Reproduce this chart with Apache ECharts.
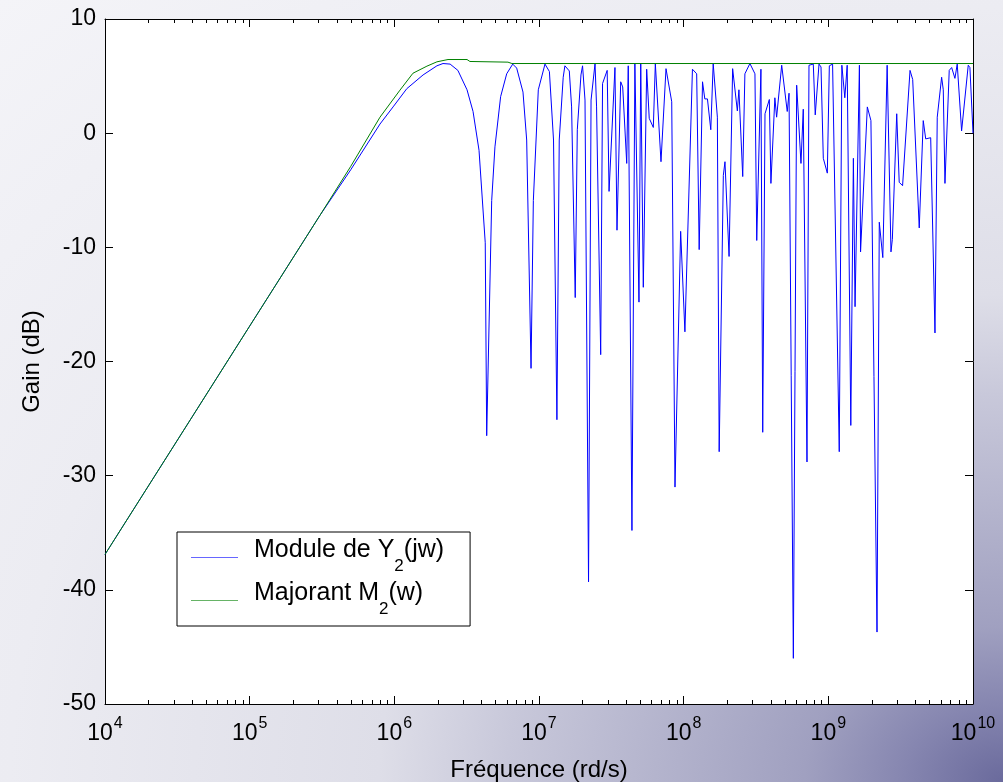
<!DOCTYPE html>
<html>
<head>
<meta charset="utf-8">
<script src="https://cdn.jsdelivr.net/npm/echarts@6/dist/echarts.min.js"></script>
<style>
html,body{margin:0;padding:0;width:1003px;height:782px;overflow:hidden;
background: radial-gradient(ellipse farthest-corner at 100% 100%, #6a6a9c 0%, #8686b0 7%, #a0a0c0 14%, #c8c8da 35%, #dedee8 44%, #ececf2 70%, #f4f4f8 100%);}
#c{width:1003px;height:782px;}
</style>
</head>
<body>
<div id="c"></div>
<script>
// ---- data ----
const freqBlue = [
1e4, 1e5, 3.06e5, 5e5, 7.96e5, 9.8e5, 1.22e6, 1.58e6, 1.97e6, 2.17e6,
2.43e6, 2.75e6, 3.18e6, 3.50e6, 3.85e6, 4.25e6, 4.35e6, 4.71e6, 4.96e6, 5.43e6,
5.98e6, 6.58e6, 7.01e6, 7.75e6, 8.22e6, 8.81e6, 9.14e6, 9.89e6,
1.10e7, 1.18e7, 1.26e7, 1.33e7, 1.38e7, 1.47e7, 1.51e7, 1.62e7, 1.68e7, 1.78e7,
1.84e7, 1.95e7, 2.00e7, 2.08e7, 2.20e7, 2.29e7, 2.44e7, 2.50e7, 2.67e7, 2.75e7,
2.96e7, 3.05e7, 3.35e7, 3.46e7, 3.67e7, 3.79e7, 4.04e7, 4.14e7, 4.39e7, 4.60e7,
4.91e7, 5.05e7, 5.26e7, 5.55e7, 5.78e7, 6.17e7, 6.37e7, 6.97e7, 7.55e7, 7.71e7,
8.27e7, 8.71e7, 9.53e7,
1.02e8, 1.15e8, 1.23e8, 1.28e8, 1.35e8, 1.40e8, 1.46e8, 1.54e8, 1.60e8, 1.71e8,
1.76e8, 1.88e8, 1.93e8, 2.06e8, 2.18e8, 2.35e8, 2.41e8, 2.56e8, 2.65e8, 2.87e8,
3.11e8, 3.20e8, 3.42e8, 3.52e8, 3.65e8, 3.91e8, 4.01e8, 4.27e8, 4.39e8, 4.76e8,
4.88e8, 5.20e8, 5.35e8, 5.73e8, 6.04e8, 6.47e8, 6.71e8, 7.12e8, 7.35e8, 7.87e8,
8.12e8, 8.62e8, 8.90e8, 9.23e8, 9.84e8,
1.016e9, 1.07e9, 1.19e9, 1.24e9, 1.30e9, 1.35e9, 1.43e9, 1.49e9, 1.53e9, 1.64e9,
1.67e9, 1.86e9, 1.97e9, 2.17e9, 2.25e9, 2.38e9, 2.55e9, 2.71e9, 2.77e9, 2.97e9,
3.09e9, 3.26e9, 3.67e9, 3.83e9, 4.25e9, 4.53e9, 4.71e9, 5.10e9, 5.46e9, 5.66e9,
6.07e9, 6.23e9, 6.40e9, 6.85e9, 7.12e9, 7.50e9, 7.78e9, 8.34e9, 9.27e9, 9.52e9,
1e10
];
const gainBlue = [
-36.9, -16.9, -7.2, -3.2, 0.8, 2.3, 3.9, 5.1, 5.9, 6.1,
6.05, 5.5, 3.8, 1.9, -1.5, -9.6, -26.5, -5.9, -1.2, 3.2,
5.2, 6.05, 5.7, 3.6, -0.6, -20.6, -5.9, 3.8,
6.05, 5.4, -0.6, -25.1, -0.6, 4.9, 5.9, 5.45, 2.3, -14.4,
0.3, 5.1, 5.9, 2.9, -39.3, 2.9, 6.1, 2.3, -19.4, 4.35,
5.5, -5.1, 5.75, -8.5, 4.5, 4.05, -2.65, 5.9, -34.8, 6.1,
-14.8, 6.1, -13.5, 5.6, 1.3, 0.5, 6.1, -2.5, 5.65, 5.75,
2.75, -31.0, -8.6,
-17.4, 5.6, 5.2, -10.2, 4.5, 3.0, 3.0, 0.3, 6.1, 1.4,
-27.9, -3.7, -2.5, -10.8, 5.65, 1.95, 3.8, -3.8, 5.2, 6.1,
5.2, -9.4, 5.6, -26.2, 1.7, 2.95, -4.4, 3.1, 1.4, 5.95,
5.9, 1.9, 3.5, -46.0, 4.2, -2.65, 2.1, -28.8, 5.95, 6.05,
1.6, 6.05, 5.8, -2.2, -3.5,
5.9, 6.05, -27.9, 5.95, 3.1, 5.95, -25.6, -2.2, -15.2, 5.95,
-10.4, 2.3, 1.1, -43.7, -7.8, -10.9, 5.95, -10.4, -9.3, 1.7,
-4.3, -4.6, 5.5, 4.7, -8.3, 1.1, -0.5, -0.4, -17.5, 1.4,
4.9, 3.8, -4.4, 5.5, 5.75, 4.8, 6.05, 0.2, 5.95, 5.75,
0.0
];
const freqGreen = [1e4, 1e5, 3.06e5, 5e5, 7.96e5, 1.094e6, 1.345e6, 1.68e6, 1.97e6, 2.35e6, 3.18e6, 3.33e6, 6.1e6, 6.5e6, 1e10];
const gainGreen = [-36.9, -16.9, -7.2, -2.9, 1.4, 3.77, 5.25, 5.87, 6.25, 6.45, 6.45, 6.28, 6.22, 6.1, 6.1];

const xTickValues = [1e4, 1e5, 1e6, 1e7, 1e8, 1e9, 1e10];
const xTickExponents = ['4', '5', '6', '7', '8', '9', '10'];
const yTickLabels = ['-50', '-40', '-30', '-20', '-10', '0', '10'];
const seriesNames = ['Y2', 'M2'];
const legendTexts = ['{t|Module de Y}{s|2}{t|(jw)}', '{t|Majorant M}{s|2}{t|(w)}'];

// minor tick positions 2..9 x 10^n
const xMinorTicks = [];
for (let e = 4; e < 10; e++) for (let m = 2; m <= 9; m++) xMinorTicks.push(m * Math.pow(10, e));

const FONT = '"Liberation Sans", Arial, Helvetica, sans-serif';
const blueData = freqBlue.map((f, i) => [f, gainBlue[i]]);
const greenData = freqGreen.map((f, i) => [f, gainGreen[i]]);

function xAxisBase(pos) {
  return {
    type: 'log', logBase: 10, min: 1e4, max: 1e10, position: pos,
    splitLine: { show: false }, minorTick: { show: false },
    axisLine: { show: true, onZero: false, lineStyle: { color: '#000', width: 1 } },
    axisTick: { show: true, inside: true, length: 8, customValues: xTickValues, lineStyle: { color: '#000', width: 1 } },
    axisLabel: { show: false }
  };
}
function xAxisMinor(pos) {
  return {
    type: 'log', logBase: 10, min: 1e4, max: 1e10, position: pos,
    splitLine: { show: false },
    axisLine: { show: false, onZero: false },
    axisTick: { show: true, inside: true, length: 4, customValues: xMinorTicks, lineStyle: { color: '#000', width: 1 } },
    axisLabel: { show: false }
  };
}

const xBottom = xAxisBase('bottom');
xBottom.axisLabel = {
  show: true, customValues: xTickValues, margin: 18,
  formatter: function (v) {
    const i = xTickValues.findIndex(t => Math.abs(Math.log10(t) - Math.log10(v)) < 1e-6);
    return '{b|10}{sup|' + xTickExponents[i] + '}';
  },
  rich: {
    b: { fontSize: 23, fontFamily: FONT, color: '#000', lineHeight: 24 },
    sup: { fontSize: 16, fontFamily: FONT, color: '#000', lineHeight: 24, padding: [0, 0, 20, 1] }
  }
};
xBottom.name = 'Fréquence (rd/s)';
xBottom.nameLocation = 'middle';
xBottom.nameGap = 54;
xBottom.nameTextStyle = { fontSize: 24, fontFamily: FONT, color: '#000' };

const chart = echarts.init(document.getElementById('c'), null, { renderer: 'canvas' });
chart.setOption({
  animation: false,
  backgroundColor: 'transparent',
  grid: { left: 105, right: 30, top: 19, bottom: 78, outerBoundsMode: 'none', containLabel: false,
    show: true, backgroundColor: '#ffffff', borderWidth: 0 },
  legend: {
    orient: 'vertical', left: 177, top: 532,
    padding: [6, 26, 6, 14], itemGap: 4, itemWidth: 47, itemHeight: 1,
    backgroundColor: '#ffffff', borderColor: '#000', borderWidth: 1, borderRadius: 0,
    itemStyle: { opacity: 0.6 },
    data: [{ name: seriesNames[0], icon: 'rect' }, { name: seriesNames[1], icon: 'rect' }],
    formatter: function (name) { return legendTexts[seriesNames.indexOf(name)]; },
    textStyle: {
      color: '#000', fontFamily: FONT, fontSize: 25, padding: [0, 0, 0, 11],
      rich: {
        t: { fontSize: 25, fontFamily: FONT, color: '#000', lineHeight: 24, padding: [0, 0, 14, 0] },
        s: { fontSize: 17, fontFamily: FONT, color: '#000', lineHeight: 24, padding: [18, 0, 0, 0] }
      }
    }
  },
  xAxis: [xBottom, xAxisMinor('bottom'), xAxisBase('top'), xAxisMinor('top')],
  yAxis: [
    {
      type: 'value', min: -50, max: 10, interval: 10, position: 'left',
      splitLine: { show: false },
      axisLine: { show: true, onZero: false, lineStyle: { color: '#000', width: 1 } },
      axisTick: { show: true, inside: true, length: 8, lineStyle: { color: '#000' } },
      axisLabel: { show: true, margin: 9, fontSize: 23, fontFamily: FONT, color: '#000',
        formatter: function (v) { return yTickLabels[Math.round((v + 50) / 10)]; } },
      name: 'Gain (dB)', nameLocation: 'middle', nameGap: 61,
      nameTextStyle: { fontSize: 24, fontFamily: FONT, color: '#000' }
    },
    {
      type: 'value', min: -50, max: 10, interval: 10, position: 'right',
      splitLine: { show: false },
      axisLine: { show: true, onZero: false, lineStyle: { color: '#000', width: 1 } },
      axisTick: { show: true, inside: true, length: 8, lineStyle: { color: '#000' } },
      axisLabel: { show: false }
    }
  ],
  series: [
    { name: 'Y2', type: 'line', xAxisIndex: 0, yAxisIndex: 0, data: blueData, symbol: 'none', showSymbol: false,
      lineStyle: { color: '#0000ff', width: 1 }, itemStyle: { color: '#0000ff' } },
    { name: 'M2', type: 'line', xAxisIndex: 0, yAxisIndex: 0, data: greenData, symbol: 'none', showSymbol: false,
      lineStyle: { color: '#008000', width: 1 }, itemStyle: { color: '#008000' } }
  ]
});
</script>
</body>
</html>
